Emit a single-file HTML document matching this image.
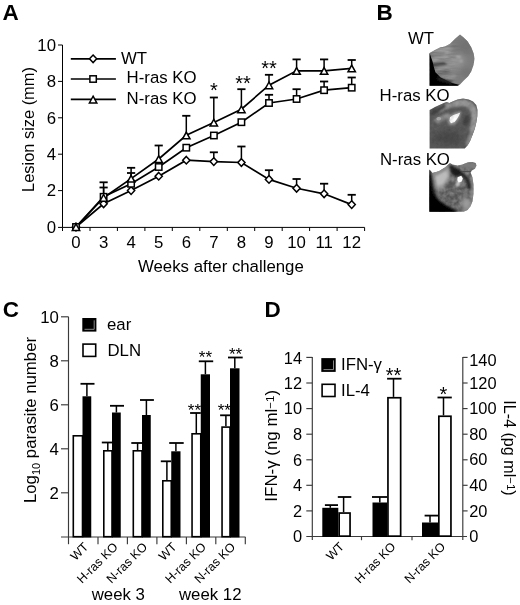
<!DOCTYPE html>
<html lang="en"><head><meta charset="utf-8"><title>Figure</title>
<style>html,body{margin:0;padding:0;background:#fff;}svg{display:block;filter:grayscale(1);}text{font-family:"Liberation Sans", sans-serif;fill:#000;}.t16{font-size:16.8px;}.t12{font-size:12.4px;}.st{font-size:20px;}.b{font-weight:bold;font-size:22.5px;}.ln{stroke:#000;stroke-width:1.7;fill:none;}.ax{stroke:#000;stroke-width:1;fill:none;}.axg{stroke:#3a3a3a;stroke-width:1.15;fill:none;}.eb{stroke:#000;stroke-width:1.5;fill:none;}.cap{stroke:#000;stroke-width:1.8;fill:none;}.mk{stroke:#000;stroke-width:1.5;fill:#fff;}.bk{fill:#000;stroke:#000;stroke-width:1.2;}.wb{fill:#fff;stroke:#000;stroke-width:1.3;}</style></head><body>
<svg width="520" height="605" viewBox="0 0 520 605">
<rect width="520" height="605" fill="#fff"/>
<text class="b" transform="translate(2.6 20.4) scale(1 1)">A</text>
<text class="b" transform="translate(376.6 20.4) scale(1 1)">B</text>
<text class="b" transform="translate(2.8 316.6) scale(1 1)">C</text>
<text class="b" transform="translate(264.4 316.7) scale(1 1)">D</text>
<g id="panelA">
<path class="ax" d="M62.5 45.0 V227.4 H364.6"/>
<path class="ax" d="M58 227.4 H62.5"/>
<text class="t16" text-anchor="end" x="56" y="232.8">0</text>
<path class="ax" d="M58 190.6 H62.5"/>
<text class="t16" text-anchor="end" x="56" y="196.4">2</text>
<path class="ax" d="M58 154.2 H62.5"/>
<text class="t16" text-anchor="end" x="56" y="160.0">4</text>
<path class="ax" d="M58 117.8 H62.5"/>
<text class="t16" text-anchor="end" x="56" y="123.6">6</text>
<path class="ax" d="M58 81.4 H62.5"/>
<text class="t16" text-anchor="end" x="56" y="87.2">8</text>
<path class="ax" d="M58 45.0 H62.5"/>
<text class="t16" text-anchor="end" x="56" y="50.8">10</text>
<path class="ax" d="M62.5 227.4 V231.0"/>
<path class="ax" d="M90.0 227.4 V231.0"/>
<path class="ax" d="M117.4 227.4 V231.0"/>
<path class="ax" d="M144.9 227.4 V231.0"/>
<path class="ax" d="M172.3 227.4 V231.0"/>
<path class="ax" d="M199.8 227.4 V231.0"/>
<path class="ax" d="M227.3 227.4 V231.0"/>
<path class="ax" d="M254.7 227.4 V231.0"/>
<path class="ax" d="M282.2 227.4 V231.0"/>
<path class="ax" d="M309.6 227.4 V231.0"/>
<path class="ax" d="M337.1 227.4 V231.0"/>
<path class="ax" d="M364.6 227.4 V231.0"/>
<text class="t16" text-anchor="middle" x="76.0" y="247.7">0</text>
<text class="t16" text-anchor="middle" x="103.6" y="247.7">3</text>
<text class="t16" text-anchor="middle" x="131.1" y="247.7">4</text>
<text class="t16" text-anchor="middle" x="158.7" y="247.7">5</text>
<text class="t16" text-anchor="middle" x="186.3" y="247.7">6</text>
<text class="t16" text-anchor="middle" x="213.8" y="247.7">7</text>
<text class="t16" text-anchor="middle" x="241.4" y="247.7">8</text>
<text class="t16" text-anchor="middle" x="269.0" y="247.7">9</text>
<text class="t16" text-anchor="middle" x="296.6" y="247.7">10</text>
<text class="t16" text-anchor="middle" x="324.1" y="247.7">11</text>
<text class="t16" text-anchor="middle" x="351.7" y="247.7">12</text>
<text class="t16" x="138" y="271.5">Weeks after challenge</text>
<text class="t16" style="font-size:16.4px" text-anchor="middle" transform="translate(34.2 129.5) rotate(-90)">Lesion size (mm)</text>
<path class="eb" d="M213.8 161.6 V152.3"/><path class="cap" d="M209.8 152.3 H217.9"/>
<path class="eb" d="M241.4 162.5 V146.5"/><path class="cap" d="M237.3 146.5 H245.5"/>
<path class="eb" d="M269.0 179.4 V170.2"/><path class="cap" d="M264.9 170.2 H273.1"/>
<path class="eb" d="M296.6 188.3 V179.0"/><path class="cap" d="M292.5 179.0 H300.7"/>
<path class="eb" d="M324.1 193.8 V183.7"/><path class="cap" d="M320.0 183.7 H328.2"/>
<path class="eb" d="M351.7 204.6 V194.8"/><path class="cap" d="M347.6 194.8 H355.8"/>
<path class="eb" d="M103.6 196.8 V187.5"/><path class="cap" d="M99.5 187.5 H107.7"/>
<path class="eb" d="M131.1 183.8 V173.0"/><path class="cap" d="M127.0 173.0 H135.2"/>
<path class="eb" d="M269.0 103.0 V94.8"/><path class="cap" d="M264.9 94.8 H273.1"/>
<path class="eb" d="M296.6 99.0 V89.2"/><path class="cap" d="M292.5 89.2 H300.7"/>
<path class="eb" d="M324.1 90.2 V81.5"/><path class="cap" d="M320.0 81.5 H328.2"/>
<path class="eb" d="M351.7 87.7 V77.5"/><path class="cap" d="M347.6 77.5 H355.8"/>
<path class="eb" d="M103.6 197.7 V182.3"/><path class="cap" d="M99.5 182.3 H107.7"/>
<path class="eb" d="M131.1 178.6 V167.8"/><path class="cap" d="M127.0 167.8 H135.2"/>
<path class="eb" d="M158.7 159.0 V145.5"/><path class="cap" d="M154.6 145.5 H162.8"/>
<path class="eb" d="M186.3 135.3 V115.8"/><path class="cap" d="M182.2 115.8 H190.4"/>
<path class="eb" d="M213.8 122.5 V97.5"/><path class="cap" d="M209.8 97.5 H217.9"/>
<path class="eb" d="M241.4 109.2 V89.2"/><path class="cap" d="M237.3 89.2 H245.5"/>
<path class="eb" d="M269.0 85.2 V74.8"/><path class="cap" d="M264.9 74.8 H273.1"/>
<path class="eb" d="M296.6 70.8 V59.4"/><path class="cap" d="M292.5 59.4 H300.7"/>
<path class="eb" d="M324.1 70.8 V59.4"/><path class="cap" d="M320.0 59.4 H328.2"/>
<path class="eb" d="M351.7 68.3 V60.0"/><path class="cap" d="M347.6 60.0 H355.8"/>
<polyline class="ln" points="76.0,227.0 103.6,203.8 131.1,190.6 158.7,176.2 186.3,160.2 213.8,161.6 241.4,162.5 269.0,179.4 296.6,188.3 324.1,193.8 351.7,204.6"/>
<polyline class="ln" points="76.0,227.0 103.6,196.8 131.1,183.8 158.7,167.0 186.3,147.7 213.8,135.5 241.4,122.2 269.0,103.0 296.6,99.0 324.1,90.2 351.7,87.7"/>
<polyline class="ln" points="76.0,227.0 103.6,197.7 131.1,178.6 158.7,159.0 186.3,135.3 213.8,122.5 241.4,109.2 269.0,85.2 296.6,70.8 324.1,70.8 351.7,68.3"/>
<path class="mk" d="M76.0 223.2 l3.6 3.8 l-3.6 3.8 l-3.6 -3.8 z"/>
<path class="mk" d="M103.6 200.0 l3.6 3.8 l-3.6 3.8 l-3.6 -3.8 z"/>
<path class="mk" d="M131.1 186.8 l3.6 3.8 l-3.6 3.8 l-3.6 -3.8 z"/>
<path class="mk" d="M158.7 172.4 l3.6 3.8 l-3.6 3.8 l-3.6 -3.8 z"/>
<path class="mk" d="M186.3 156.4 l3.6 3.8 l-3.6 3.8 l-3.6 -3.8 z"/>
<path class="mk" d="M213.8 157.8 l3.6 3.8 l-3.6 3.8 l-3.6 -3.8 z"/>
<path class="mk" d="M241.4 158.7 l3.6 3.8 l-3.6 3.8 l-3.6 -3.8 z"/>
<path class="mk" d="M269.0 175.6 l3.6 3.8 l-3.6 3.8 l-3.6 -3.8 z"/>
<path class="mk" d="M296.6 184.5 l3.6 3.8 l-3.6 3.8 l-3.6 -3.8 z"/>
<path class="mk" d="M324.1 190.0 l3.6 3.8 l-3.6 3.8 l-3.6 -3.8 z"/>
<path class="mk" d="M351.7 200.8 l3.6 3.8 l-3.6 3.8 l-3.6 -3.8 z"/>
<rect class="mk" x="72.8" y="223.8" width="6.4" height="6.4"/>
<rect class="mk" x="100.4" y="193.6" width="6.4" height="6.4"/>
<rect class="mk" x="127.9" y="180.6" width="6.4" height="6.4"/>
<rect class="mk" x="155.5" y="163.8" width="6.4" height="6.4"/>
<rect class="mk" x="183.1" y="144.5" width="6.4" height="6.4"/>
<rect class="mk" x="210.7" y="132.3" width="6.4" height="6.4"/>
<rect class="mk" x="238.2" y="119.0" width="6.4" height="6.4"/>
<rect class="mk" x="265.8" y="99.8" width="6.4" height="6.4"/>
<rect class="mk" x="293.4" y="95.8" width="6.4" height="6.4"/>
<rect class="mk" x="320.9" y="87.0" width="6.4" height="6.4"/>
<rect class="mk" x="348.5" y="84.5" width="6.4" height="6.4"/>
<path class="mk" d="M76.0 223.8 l3.7 6.7 h-7.4 z"/>
<path class="mk" d="M103.6 194.5 l3.7 6.7 h-7.4 z"/>
<path class="mk" d="M131.1 175.4 l3.7 6.7 h-7.4 z"/>
<path class="mk" d="M158.7 155.8 l3.7 6.7 h-7.4 z"/>
<path class="mk" d="M186.3 132.1 l3.7 6.7 h-7.4 z"/>
<path class="mk" d="M213.8 119.3 l3.7 6.7 h-7.4 z"/>
<path class="mk" d="M241.4 106.0 l3.7 6.7 h-7.4 z"/>
<path class="mk" d="M269.0 82.0 l3.7 6.7 h-7.4 z"/>
<path class="mk" d="M296.6 67.6 l3.7 6.7 h-7.4 z"/>
<path class="mk" d="M324.1 67.6 l3.7 6.7 h-7.4 z"/>
<path class="mk" d="M351.7 65.1 l3.7 6.7 h-7.4 z"/>
<path class="ln" d="M70.8 58.8 H115.9"/>
<path class="mk" d="M93.1 55.0 l3.6 3.8 l-3.6 3.8 l-3.6 -3.8 z"/>
<path class="ln" d="M70.8 79.0 H115.9"/>
<rect class="mk" x="89.9" y="75.8" width="6.4" height="6.4"/>
<path class="ln" d="M70.8 99.4 H115.9"/>
<path class="mk" d="M93.1 96.2 l3.7 6.7 h-7.4 z"/>
<text class="t16" x="121" y="63.8">WT</text>
<text class="t16" x="126.6" y="83.2">H-ras KO</text>
<text class="t16" x="126.6" y="104">N-ras KO</text>
<text class="st" text-anchor="middle" x="213.8" y="97.3">*</text>
<text class="st" text-anchor="middle" x="243" y="89.8">**</text>
<text class="st" text-anchor="middle" x="269" y="75.3">**</text>
</g>
<g id="panelB">
<text class="t16" x="408" y="43.8">WT</text>
<text class="t16" x="379.6" y="100.9">H-ras KO</text>
<text class="t16" x="380" y="164.6">N-ras KO</text>
<defs>
<filter id="soft" x="-5%" y="-5%" width="110%" height="110%"><feGaussianBlur stdDeviation="0.45"/></filter>
<filter id="bl05" x="-20%" y="-20%" width="140%" height="140%"><feGaussianBlur stdDeviation="0.5"/></filter>
<filter id="bl1" x="-30%" y="-30%" width="160%" height="160%"><feGaussianBlur stdDeviation="1"/></filter>
<filter id="bl15" x="-30%" y="-30%" width="160%" height="160%"><feGaussianBlur stdDeviation="1.5"/></filter>
<filter id="bl2" x="-40%" y="-40%" width="180%" height="180%"><feGaussianBlur stdDeviation="2"/></filter>
<filter id="bl3" x="-50%" y="-50%" width="200%" height="200%"><feGaussianBlur stdDeviation="3"/></filter>
<filter id="noiseD" x="0" y="0" width="100%" height="100%">
  <feTurbulence type="fractalNoise" baseFrequency="0.22" numOctaves="2" seed="11" result="n"/>
  <feColorMatrix in="n" type="matrix" values="0 0 0 0 0  0 0 0 0 0  0 0 0 0 0  1.3 0 0 0 -0.42"/>
</filter>
<filter id="noiseL" x="0" y="0" width="100%" height="100%">
  <feTurbulence type="fractalNoise" baseFrequency="0.25" numOctaves="2" seed="3" result="n"/>
  <feColorMatrix in="n" type="matrix" values="0 0 0 0 1  0 0 0 0 1  0 0 0 0 1  0 1.0 0 0 -0.38"/>
</filter>
<filter id="noiseF" x="0" y="0" width="100%" height="100%">
  <feTurbulence type="fractalNoise" baseFrequency="0.08 0.5" numOctaves="2" seed="5" result="n"/>
  <feColorMatrix in="n" type="matrix" values="0 0 0 0 0  0 0 0 0 0  0 0 0 0 0  1.2 0 0 0 -0.45"/>
</filter>
<clipPath id="e1"><path d="M429.6 53.1 L435 50 L440 47.5 L445 46.5 L450 43.8 L455 38.8 L460 34.6 L463.1 36.9 L467.5 41.3 L471.3 47.5 L473.8 53.8 L474.5 58.8 L473.6 65 L471.3 71.3 L468.1 76.3 L463.8 80.6 L460 84.4 L457.5 85.7 L429.6 85.7 Z"/></clipPath>
<clipPath id="e2"><path d="M429.6 110 L435 106.9 L440.6 104.4 L445 102.5 L446.9 101.9 L449.4 103.1 L453.1 101.3 L457.5 99.4 L463.1 98.5 L468.8 99.4 L473.1 101.5 L476.3 105 L477.5 110 L477.3 116.3 L476.3 122.5 L474.8 128.8 L472.5 135 L470 141.3 L467.5 145.6 L464.8 148.6 L429.6 148.6 Z"/></clipPath>
<clipPath id="e3"><path d="M429.4 169.4 L432.5 173.1 L438.8 171.3 L445 167.5 L450 163.1 L452.5 164.4 L457.5 165.6 L462.5 164.4 L467.5 162.5 L472.5 161.9 L475.6 163.1 L476.5 165.6 L475 168.8 L471.9 170.6 L470.6 172.5 L472.5 177.5 L473.5 185 L473.5 193.8 L472.5 201.3 L470.6 206.3 L467.5 210 L463.8 211.7 L429.4 211.7 Z"/></clipPath>
<linearGradient id="fadeR" x1="0" y1="0" x2="1" y2="0"><stop offset="0" stop-color="#fff"/><stop offset="0.55" stop-color="#fff"/><stop offset="1" stop-color="#000"/></linearGradient>
<mask id="mF" maskUnits="userSpaceOnUse" x="425" y="30" width="60" height="60"><rect x="429" y="40" width="32" height="50" fill="url(#fadeR)"/></mask>
</defs>

<!-- ear 1 : WT -->
<g filter="url(#soft)"><g clip-path="url(#e1)">
<rect x="425" y="30" width="55" height="60" fill="#7d7d7d"/>
<ellipse cx="466" cy="46" rx="9" ry="9" fill="#727272" filter="url(#bl3)"/>
<ellipse cx="454" cy="62" rx="11" ry="7" fill="#969696" filter="url(#bl3)" transform="rotate(-20 454 62)"/>
<path d="M430 52 L440 47 L450 44 L452 52 L444 62 L432 66 Z" fill="#9c9c9c" filter="url(#bl2)"/>
<ellipse cx="458.5" cy="57" rx="2.4" ry="1.2" fill="#adadad" filter="url(#bl1)"/>
<ellipse cx="461" cy="61" rx="1.6" ry="1.2" fill="#a8a8a8" filter="url(#bl1)"/>
<ellipse cx="467" cy="73" rx="6" ry="5" fill="#747474" filter="url(#bl2)"/>
<!-- fur streaks -->
<path d="M430 55 L445 52 L445 54 L430 58 Z" fill="#787878" filter="url(#bl1)"/>
<path d="M430 59 L447 56.5 L447 58.5 L430 61.5 Z" fill="#a0a0a0" filter="url(#bl15)"/>
<path d="M430 63 L444 62.5 L447 65 L431 67 Z" fill="#484848" filter="url(#bl1)"/>
<path d="M432 68.5 L451 66.5 L451 68.5 L434 71.5 Z" fill="#9e9e9e" filter="url(#bl15)"/>
<path d="M434 72.5 L450 70.5 L450 72.5 L436 75.5 Z" fill="#707070" filter="url(#bl15)"/>
<path d="M438 76.5 L455 74.5 L457 77.5 L443 80 Z" fill="#9a9a9a" filter="url(#bl15)"/>
<g mask="url(#mF)"><rect x="429" y="40" width="32" height="50" filter="url(#noiseF)" fill="#000" opacity="0.35"/></g>
<!-- black wedge -->
<path d="M428 53.5 L429.8 53.5 L432.6 61.7 L433.8 67 L435.4 72.3 L440.6 77.6 L452 82.9 L460 85 L460 87 L428 87 Z" fill="#050505" filter="url(#bl05)"/>
<path d="M437 77 L452 81.5 L452 84 L438 80 Z" fill="#2a2a2a" filter="url(#bl1)"/>
</g></g>

<!-- ear 2 : H-ras KO -->
<g filter="url(#soft)"><g clip-path="url(#e2)">
<rect x="425" y="95" width="56" height="60" fill="#5c5c5c"/>
<path d="M438 110 Q452 103 464 102.5 Q474.5 104 475.2 118 Q474.5 130 468 146" stroke="#909090" stroke-width="5.6" fill="none" filter="url(#bl1)"/>
<path d="M455 103.5 Q470 101 474 112 Q475 120 472 130" stroke="#9a9a9a" stroke-width="4.5" fill="none" filter="url(#bl15)"/>
<path d="M430 112 L444 104 L446 107 L432 116 Z" fill="#444" filter="url(#bl1)"/>
<ellipse cx="466" cy="120.5" rx="2.6" ry="5" fill="#3c3c3c" filter="url(#bl15)" transform="rotate(15 466 120.5)"/>
<ellipse cx="448" cy="138" rx="15" ry="7" fill="#4c4c4c" filter="url(#bl3)"/>
<path d="M433 120 L448 112.5 L451 116.5 L438 123.5 Z" fill="#8c8c8c" filter="url(#bl1)"/>
<ellipse cx="438.8" cy="118.8" rx="2.4" ry="1.7" fill="#b4b4b4" filter="url(#bl05)"/>
<path d="M448 117 L453 113.5 L461.5 111 L460.5 116 L457.5 121 L455 124.5 L450 125 L447.5 121.5 Z" fill="#9a9a9a" filter="url(#bl1)"/>
<path d="M450 117.3 L453.3 115 L457.3 113.8 L460.3 112.6 L459.2 115.2 L457 119 L454.6 122 L451 123.2 L449.4 121 Z" fill="#fff" filter="url(#bl05)"/>
<rect x="429" y="98" width="50" height="52" filter="url(#noiseD)" fill="#000" opacity="0.18"/>
</g></g>

<!-- ear 3 : N-ras KO -->
<g filter="url(#soft)"><g clip-path="url(#e3)">
<rect x="425" y="158" width="56" height="60" fill="#787878"/>
<ellipse cx="455" cy="194" rx="11" ry="11" fill="#6c6c6c" filter="url(#bl3)"/>
<rect x="425" y="158" width="56" height="60" filter="url(#noiseD)" fill="#000" opacity="0.5"/>
<rect x="425" y="158" width="56" height="60" filter="url(#noiseL)" opacity="0.35"/>
<ellipse cx="466.5" cy="204" rx="5" ry="6" fill="#9c9c9c" filter="url(#bl2)"/>
<path d="M472 175 L473.5 185 L473 198 L470.5 198 L470.5 176 Z" fill="#8e8e8e" filter="url(#bl1)"/>
<ellipse cx="469" cy="165.5" rx="6.5" ry="3" fill="#7c7c7c" filter="url(#bl1)"/>
<path d="M430.8 172.8 L449.9 164.3 L450.9 171.8 L447.8 181.3 L442.5 189 L435 190 L431.9 184.5 Z" fill="#9c9c9c" filter="url(#bl15)"/>
<path d="M435 177 L446.5 170.5 L448 176 L443 184 L437 186 Z" fill="#bcbcbc" filter="url(#bl1)"/>
<path d="M432.5 173.5 L449 164.5 L450.5 167.5 L436 174.5 Z" fill="#8a8a8a" filter="url(#bl1)"/>
<path d="M449.9 165.9 Q453 170 456.7 171.8 Q461 173 464.2 176 Q467.5 179 468.4 182.3 L469.4 189" stroke="#232323" stroke-width="3.6" fill="none" filter="url(#bl1)"/>
<ellipse cx="455.6" cy="172" rx="5.6" ry="3.8" fill="#1c1c1c" filter="url(#bl1)" transform="rotate(28 455.6 172)"/>
<path d="M460 171.5 L470.5 171.3" stroke="#3a3a3a" stroke-width="2" fill="none" filter="url(#bl1)"/>
<path d="M446 188 Q451 182 455 182.5" stroke="#4c4c4c" stroke-width="2" fill="none" filter="url(#bl1)"/>
<path d="M455 186 L458.5 178 L462.5 178.5 L458.5 186.5 Z" fill="#c8c8c8" filter="url(#bl1)"/>
<path d="M457.6 177.2 L461.2 175.8 L462.8 178.2 L461.6 181.6 L458.6 182.4 L457.4 180 Z" fill="#fff" filter="url(#bl05)"/>
<path d="M428 172 L431 172 L434 188 L437 198 L443 205 L452 209 L461 213 L428 213 Z" fill="#222" filter="url(#bl2)"/>
<path d="M428 169.4 L429.8 169.4 L431.6 184 L433 192.5 L437.5 200 L446 205.5 L457 211.7 L457 213 L428 213 Z" fill="#030303" filter="url(#bl1)"/>
</g></g>

</g>
<g id="panelC">
<path class="axg" d="M68.5 316.7 V537 M61 537 H245.5"/>
<path class="axg" d="M61 492.8 H68.5"/>
<text class="t16" text-anchor="end" x="58.8" y="498.9">2</text>
<path class="axg" d="M61 448.8 H68.5"/>
<text class="t16" text-anchor="end" x="58.8" y="454.9">4</text>
<path class="axg" d="M61 404.8 H68.5"/>
<text class="t16" text-anchor="end" x="58.8" y="410.9">6</text>
<path class="axg" d="M61 360.8 H68.5"/>
<text class="t16" text-anchor="end" x="58.8" y="366.9">8</text>
<path class="axg" d="M61 316.8 H68.5"/>
<text class="t16" text-anchor="end" x="58.8" y="322.9">10</text>
<path class="axg" d="M68.5 537 V544.2"/>
<path class="axg" d="M98.0 537 V544.2"/>
<path class="axg" d="M127.4 537 V544.2"/>
<path class="axg" d="M156.9 537 V544.2"/>
<path class="axg" d="M186.4 537 V544.2"/>
<path class="axg" d="M215.8 537 V544.2"/>
<path class="axg" d="M245.3 537 V544.2"/>
<rect class="wb" style="stroke-width:1.6" x="73.30" y="435.80" width="9.20" height="100.90"/>
<rect x="82.50" y="396.30" width="8.75" height="141.10" fill="#000"/>
<path class="eb" d="M86.9 396.3 V383.8"/><path class="cap" d="M80.5 383.8 H94.5"/>
<rect class="wb" style="stroke-width:1.6" x="103.80" y="450.80" width="8.20" height="85.90"/>
<path class="eb" d="M107.8 450.0 V442.5"/><path class="cap" d="M101.8 442.5 H112.0"/>
<rect x="112.00" y="412.50" width="8.75" height="124.90" fill="#000"/>
<path class="eb" d="M116.4 412.5 V405.8"/><path class="cap" d="M110.0 405.8 H124.0"/>
<rect class="wb" style="stroke-width:1.6" x="133.30" y="450.80" width="8.70" height="85.90"/>
<path class="eb" d="M137.6 450.0 V443.0"/><path class="cap" d="M131.3 443.0 H142.0"/>
<rect x="142.00" y="415.00" width="8.75" height="122.40" fill="#000"/>
<path class="eb" d="M146.4 415.0 V400.0"/><path class="cap" d="M140.0 400.0 H153.9"/>
<rect class="wb" style="stroke-width:1.6" x="162.80" y="480.80" width="8.45" height="55.90"/>
<path class="eb" d="M166.9 480.0 V461.3"/><path class="cap" d="M160.8 461.3 H171.2"/>
<rect x="171.25" y="451.30" width="9.25" height="86.10" fill="#000"/>
<path class="eb" d="M175.9 451.3 V443.0"/><path class="cap" d="M169.2 443.0 H183.7"/>
<rect class="wb" style="stroke-width:1.6" x="192.05" y="433.80" width="8.70" height="102.90"/>
<path class="eb" d="M196.3 433.0 V413.0"/><path class="cap" d="M190.1 413.0 H200.8"/>
<rect x="200.75" y="374.30" width="9.25" height="163.10" fill="#000"/>
<path class="eb" d="M205.4 374.3 V361.3"/><path class="cap" d="M198.8 361.3 H213.2"/>
<rect class="wb" style="stroke-width:1.6" x="222.05" y="427.10" width="7.95" height="109.60"/>
<path class="eb" d="M225.9 426.3 V415.3"/><path class="cap" d="M220.1 415.3 H230.0"/>
<rect x="230.00" y="368.30" width="9.50" height="169.10" fill="#000"/>
<path class="eb" d="M234.8 368.3 V357.5"/><path class="cap" d="M228.0 357.5 H242.7"/>
<text class="t16" style="font-size:17px" text-anchor="middle" x="205.4" y="362.5">**</text>
<text class="t16" style="font-size:17px" text-anchor="middle" x="235.6" y="359.5">**</text>
<text class="t16" style="font-size:17px" text-anchor="middle" x="194.4" y="415.7">**</text>
<text class="t16" style="font-size:17px" text-anchor="middle" x="224.3" y="416.4">**</text>
<rect x="82.3" y="318" width="14.1" height="13.6" fill="#000"/>
<path d="M84.5 329.3 H94.2 V320.3" stroke="#999" stroke-width="0.9" fill="none"/>
<rect class="wb" style="stroke-width:1.6" x="83" y="344.1" width="12.7" height="12.3"/>
<text class="t16" x="107" y="329.5">ear</text>
<text class="t16" x="107.5" y="356.3">DLN</text>
<text class="t16" text-anchor="middle" transform="translate(35.9 420) rotate(-90)">Log<tspan style="font-size:11px" dy="4">10</tspan><tspan dy="-4"> parasite number</tspan></text>
<text class="t12" text-anchor="end" transform="translate(89.2 547.6) rotate(-45)">WT</text>
<text class="t12" text-anchor="end" transform="translate(118.6 547.6) rotate(-45)">H-ras KO</text>
<text class="t12" text-anchor="end" transform="translate(148.0 547.6) rotate(-45)">N-ras KO</text>
<text class="t12" text-anchor="end" transform="translate(177.4 547.6) rotate(-45)">WT</text>
<text class="t12" text-anchor="end" transform="translate(206.8 547.6) rotate(-45)">H-ras KO</text>
<text class="t12" text-anchor="end" transform="translate(236.1 547.6) rotate(-45)">N-ras KO</text>
<text class="t16" x="91.7" y="599.6">week 3</text>
<text class="t16" x="179" y="599.6">week 12</text>
</g>
<g id="panelD">
<path class="axg" d="M312.3 357 V540 M462.8 357 V540 M306.3 536.5 H467"/>
<text class="t16" style="font-size:16.4px" text-anchor="end" x="302" y="542.2">0</text>
<text class="t16" style="font-size:16.4px" x="469.2" y="542.1">0</text>
<path class="axg" d="M306.3 510.9 H312.3"/>
<text class="t16" style="font-size:16.4px" text-anchor="end" x="302" y="516.6">2</text>
<path class="axg" d="M462.8 510.9 H467.6"/>
<text class="t16" style="font-size:16.4px" x="469.2" y="516.5">20</text>
<path class="axg" d="M306.3 485.3 H312.3"/>
<text class="t16" style="font-size:16.4px" text-anchor="end" x="302" y="491.0">4</text>
<path class="axg" d="M462.8 485.3 H467.6"/>
<text class="t16" style="font-size:16.4px" x="469.2" y="490.9">40</text>
<path class="axg" d="M306.3 459.8 H312.3"/>
<text class="t16" style="font-size:16.4px" text-anchor="end" x="302" y="465.5">6</text>
<path class="axg" d="M462.8 459.8 H467.6"/>
<text class="t16" style="font-size:16.4px" x="469.2" y="465.4">60</text>
<path class="axg" d="M306.3 434.2 H312.3"/>
<text class="t16" style="font-size:16.4px" text-anchor="end" x="302" y="439.9">8</text>
<path class="axg" d="M462.8 434.2 H467.6"/>
<text class="t16" style="font-size:16.4px" x="469.2" y="439.8">80</text>
<path class="axg" d="M306.3 408.6 H312.3"/>
<text class="t16" style="font-size:16.4px" text-anchor="end" x="302" y="414.3">10</text>
<path class="axg" d="M462.8 408.6 H467.6"/>
<text class="t16" style="font-size:16.4px" x="469.2" y="414.2">100</text>
<path class="axg" d="M306.3 383.0 H312.3"/>
<text class="t16" style="font-size:16.4px" text-anchor="end" x="302" y="388.7">12</text>
<path class="axg" d="M462.8 383.0 H467.6"/>
<text class="t16" style="font-size:16.4px" x="469.2" y="388.6">120</text>
<path class="axg" d="M306.3 357.4 H312.3"/>
<text class="t16" style="font-size:16.4px" text-anchor="end" x="302" y="364.3">14</text>
<path class="axg" d="M462.8 357.4 H467.6"/>
<text class="t16" style="font-size:16.4px" x="469.2" y="365.7">140</text>
<path class="axg" d="M361.5 536.5 V540.2"/>
<path class="axg" d="M412.0 536.5 V540.2"/>
<rect x="322.30" y="507.80" width="16.00" height="29.20" fill="#000"/>
<path class="eb" d="M330.3 507.8 V505.1"/><path class="cap" d="M324.9 505.1 H338.0"/>
<rect class="wb" style="stroke-width:1.7" x="339.15" y="513.05" width="10.90" height="23.10"/>
<path class="eb" d="M343.6 512.2 V497.0"/><path class="cap" d="M337.8 497.0 H351.3"/>
<rect x="372.50" y="502.50" width="14.60" height="34.50" fill="#000"/>
<path class="eb" d="M379.8 502.5 V497.0"/><path class="cap" d="M372.0 497.0 H387.3"/>
<rect class="wb" style="stroke-width:1.7" x="387.95" y="397.75" width="12.70" height="138.40"/>
<path class="eb" d="M393.5 396.9 V378.7"/><path class="cap" d="M387.1 378.7 H401.5"/>
<rect x="422.00" y="522.50" width="16.00" height="14.50" fill="#000"/>
<path class="eb" d="M430.0 522.5 V515.6"/><path class="cap" d="M424.6 515.6 H438.3"/>
<rect class="wb" style="stroke-width:1.7" x="438.85" y="416.25" width="12.10" height="119.90"/>
<path class="eb" d="M443.5 415.4 V397.5"/><path class="cap" d="M437.5 397.5 H451.8"/>
<text class="st" text-anchor="middle" x="393.6" y="382.1">**</text>
<text class="st" text-anchor="middle" x="443.5" y="400.7">*</text>
<rect x="321.3" y="358.1" width="14.4" height="13.8" fill="#000"/>
<path d="M323.5 369.6 H333.5 V360.4" stroke="#999" stroke-width="0.9" fill="none"/>
<rect class="wb" style="stroke-width:1.6" x="322.1" y="384.3" width="12.9" height="12.2"/>
<text class="t16" x="341" y="370">IFN-γ</text>
<text class="t16" x="341" y="396.3">IL-4</text>
<text class="t16" style="font-size:16.9px" text-anchor="middle" transform="translate(277 445.8) rotate(-90)">IFN-γ (ng ml<tspan style="font-size:11.5px" dy="-3.5">−1</tspan><tspan dy="3.5">)</tspan></text>
<text class="t16" style="font-size:16.1px" text-anchor="middle" transform="translate(503.6 448) rotate(90)">IL-4 (pg ml<tspan style="font-size:11.5px" dy="-3.5">−1</tspan><tspan dy="3.5">)</tspan></text>
<text class="t12" text-anchor="end" transform="translate(344.8 547.4) rotate(-45)">WT</text>
<text class="t12" text-anchor="end" transform="translate(396.3 547.4) rotate(-45)">H-ras KO</text>
<text class="t12" text-anchor="end" transform="translate(446.0 547.4) rotate(-45)">N-ras KO</text>
</g>
</svg></body></html>
